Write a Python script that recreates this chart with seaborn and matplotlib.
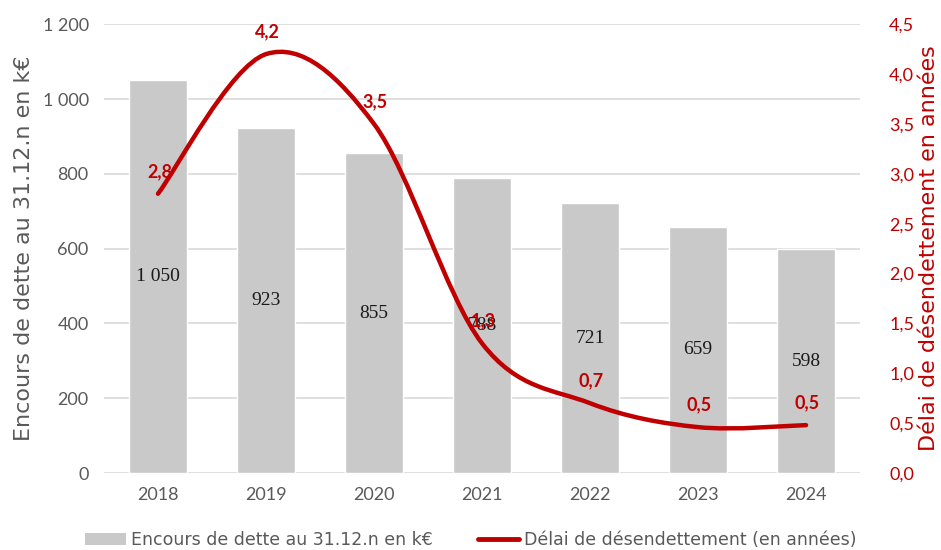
import numpy as np
import pandas as pd
import seaborn as sns
import matplotlib
matplotlib.use("Agg")
import matplotlib.pyplot as plt
from matplotlib.path import Path
from matplotlib.patches import PathPatch, Patch
from matplotlib.lines import Line2D

# Data
years = ["2018", "2019", "2020", "2021", "2022", "2023", "2024"]
encours = [1050, 923, 855, 788, 721, 659, 598]
delai = [2.8, 4.2, 3.5, 1.3, 0.7, 0.46, 0.48]
left_ticks = [0, 200, 400, 600, 800, 1000, 1200]
right_ticks = [0.0, 0.5, 1.0, 1.5, 2.0, 2.5, 3.0, 3.5, 4.0, 4.5]

GRAY_TXT = "#595959"
RED = "#C00000"
BAR = "#C9C9C9"
GRID = "#D9D9D9"
WIDE = ["DejaVu Sans"]

sns.set_theme(style="white")
plt.rcParams["font.family"] = ["Lato", "DejaVu Sans"]

fig = plt.figure(figsize=(9.41, 5.5), dpi=100)
ax = fig.add_axes([0.1105, 0.14, 0.8035, 0.816])

df = pd.DataFrame({"annee": years, "encours": encours})
sns.barplot(data=df, x="annee", y="encours", color=BAR, width=0.53,
            saturation=1, ax=ax, zorder=2)

ax.set_ylim(0, 1200)
ax.set_yticks(left_ticks)
ax.set_yticklabels([f"{v:,}".replace(",", " ") for v in left_ticks])
ax.yaxis.grid(True, color=GRID, linewidth=1.2, zorder=0)
ax.set_axisbelow(True)
for s in ax.spines.values():
    s.set_visible(False)
ax.tick_params(axis="y", length=0, pad=11, labelsize=13, colors=GRAY_TXT)
ax.tick_params(axis="x", length=0, pad=10, labelsize=13, colors=GRAY_TXT)
ax.set_xlabel("")
ax.set_ylabel("Encours de dette au 31.12.n en k€", fontsize=16, color=GRAY_TXT,
              labelpad=6, family=WIDE)
ax.set_xlim(-0.5, len(years) - 0.5)

# bar value labels, centred in each bar
for i, v in enumerate(encours):
    ax.text(i, v / 2, f"{v:,}".replace(",", " "), ha="center", va="center",
            fontsize=14, color="#1a1a1a", family="Liberation Serif", zorder=5)

# secondary axis with the smoothed line
ax2 = ax.twinx()
ax2.set_ylim(0, 4.5)
ax2.set_yticks(right_ticks)
ax2.set_yticklabels([f"{v:.1f}".replace(".", ",") for v in right_ticks])
for s in ax2.spines.values():
    s.set_visible(False)
ax2.tick_params(axis="y", length=0, pad=21, labelsize=13, colors=RED)
ax2.set_ylabel("Délai de désendettement en années", fontsize=16, color=RED,
               labelpad=3, family=WIDE)

# Bezier smoothing (Catmull-Rom style tangents)
xs = np.arange(len(delai), dtype=float)
ys = np.array(delai, dtype=float)
n = len(xs)
verts = [(xs[0], ys[0])]
codes = [Path.MOVETO]
for i in range(n - 1):
    p0 = np.array([xs[max(i - 1, 0)], ys[max(i - 1, 0)]])
    p1 = np.array([xs[i], ys[i]])
    p2 = np.array([xs[i + 1], ys[i + 1]])
    p3 = np.array([xs[min(i + 2, n - 1)], ys[min(i + 2, n - 1)]])
    c1 = p1 + (p2 - p0) / 6
    c2 = p2 - (p3 - p1) / 6
    verts += [tuple(c1), tuple(c2), tuple(p2)]
    codes += [Path.CURVE4] * 3
ax2.add_patch(PathPatch(Path(verts, codes), facecolor="none", edgecolor=RED,
                        linewidth=3.2, capstyle="round", zorder=4))

for i, v in enumerate(delai):
    ax2.annotate(f"{v:.1f}".replace(".", ","), (i, v), xytext=(1, 16),
                 textcoords="offset points", ha="center", va="center",
                 fontsize=13, fontweight="bold", color=RED, zorder=6)

handles = [Patch(facecolor=BAR, edgecolor="none"),
           Line2D([0], [0], color=RED, linewidth=3.5)]
labels = ["Encours de dette au 31.12.n en k€", "Délai de désendettement (en années)"]
fig.legend(handles, labels, loc="center", bbox_to_anchor=(0.5, 0.018), ncol=2,
           frameon=False, prop={"family": WIDE, "size": 12.5}, labelcolor=GRAY_TXT,
           handlelength=2.4, handletextpad=0.25, columnspacing=2.6)

fig.savefig("out.png", dpi=100)
